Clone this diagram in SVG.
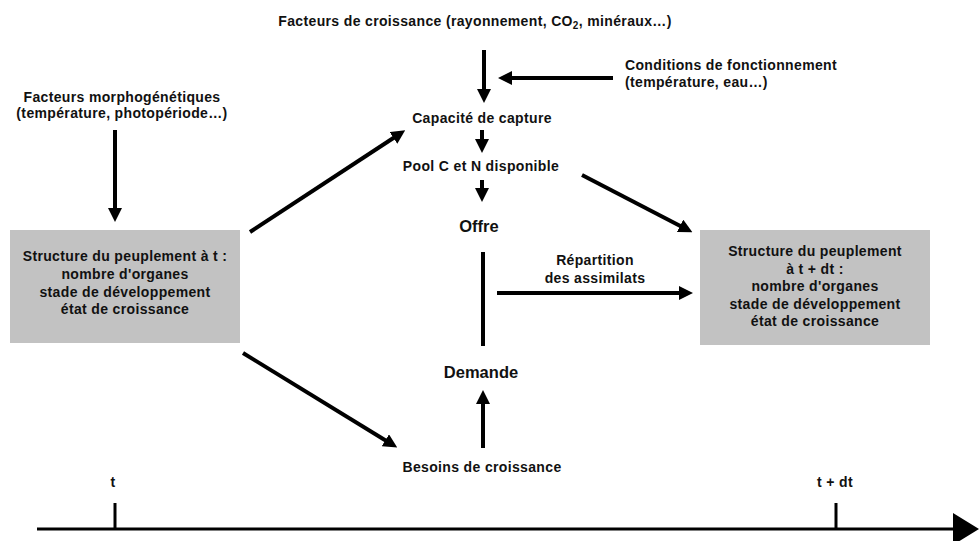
<svg xmlns="http://www.w3.org/2000/svg" width="979" height="541" viewBox="0 0 979 541">
<defs>
<marker id="ah" markerUnits="userSpaceOnUse" markerWidth="14" markerHeight="14" refX="9" refY="7" orient="auto">
<path d="M0,0 L14,7 L0,14 z" fill="#000"/>
</marker>
<style>
text{font-family:"Liberation Sans",Arial,sans-serif;font-weight:bold;font-size:14px;letter-spacing:0.35px;fill:#111;text-anchor:middle}
.big{font-size:16.5px;letter-spacing:0}
.l{text-anchor:start}
.box{fill:#c2c2c2}
.c line{stroke:#000;stroke-width:4}
.c .a{marker-end:url(#ah)}
</style>
</defs>
<rect width="979" height="541" fill="#fff"/>
<g id="facteurs-croissance"><text x="475" y="26">Facteurs de croissance (rayonnement, CO<tspan dy="3" font-size="10">2</tspan><tspan dy="-3">, minéraux…)</tspan></text></g>
<g id="conditions"><text class="l" x="625" y="70">Conditions de fonctionnement</text><text class="l" x="625" y="87">(température, eau…)</text></g>
<g id="facteurs-morpho"><text x="122" y="102">Facteurs morphogénétiques</text><text x="122" y="118">(température, photopériode…)</text></g>
<g id="capacite"><text x="482" y="123">Capacité de capture</text></g>
<g id="pool"><text x="481" y="171">Pool C et N disponible</text></g>
<g id="offre"><text class="big" x="479" y="232">Offre</text></g>
<g id="repartition"><text x="595" y="265">Répartition</text><text x="595" y="283">des assimilats</text></g>
<g id="demande"><text class="big" x="481" y="378">Demande</text></g>
<g id="besoins"><text x="482" y="472">Besoins de croissance</text></g>
<g id="structure-t"><rect class="box" x="10" y="230" width="230" height="113"/>
<text x="125" y="261">Structure du peuplement à t :</text><text x="125" y="279">nombre d'organes</text><text x="125" y="297">stade de développement</text><text x="125" y="314">état de croissance</text></g>
<g id="structure-tdt"><rect class="box" x="700" y="230" width="230" height="115"/>
<text x="815" y="256">Structure du peuplement</text><text x="815" y="274">à t + dt :</text><text x="815" y="291">nombre d'organes</text><text x="815" y="309">stade de développement</text><text x="815" y="326">état de croissance</text></g>
<g id="axe"><text x="113" y="487">t</text><text x="835" y="487">t + dt</text></g>
<g id="connectors" class="c">
<line class="a" x1="484" y1="50" x2="484" y2="98"/>
<line class="a" x1="613" y1="78" x2="503" y2="78"/>
<line class="a" x1="482" y1="130" x2="482" y2="148"/>
<line class="a" x1="482" y1="180" x2="482" y2="197"/>
<line class="a" x1="115" y1="130" x2="115" y2="217"/>
<line class="a" x1="250" y1="232" x2="401" y2="133"/>
<line class="a" x1="582" y1="175" x2="688" y2="230"/>
<line x1="483" y1="252" x2="483" y2="346"/>
<line class="a" x1="497" y1="293" x2="688" y2="293"/>
<line class="a" x1="243" y1="353" x2="393" y2="445"/>
<line class="a" x1="483" y1="448" x2="483" y2="395"/>
<line x1="37" y1="529" x2="960" y2="529" style="stroke-width:3"/>
<polygon points="953,513 979,529 953,545" fill="#000"/>
<line x1="115" y1="503" x2="115" y2="529" style="stroke-width:3"/>
<line x1="836" y1="503" x2="836" y2="529" style="stroke-width:3"/>
</g>
</svg>
